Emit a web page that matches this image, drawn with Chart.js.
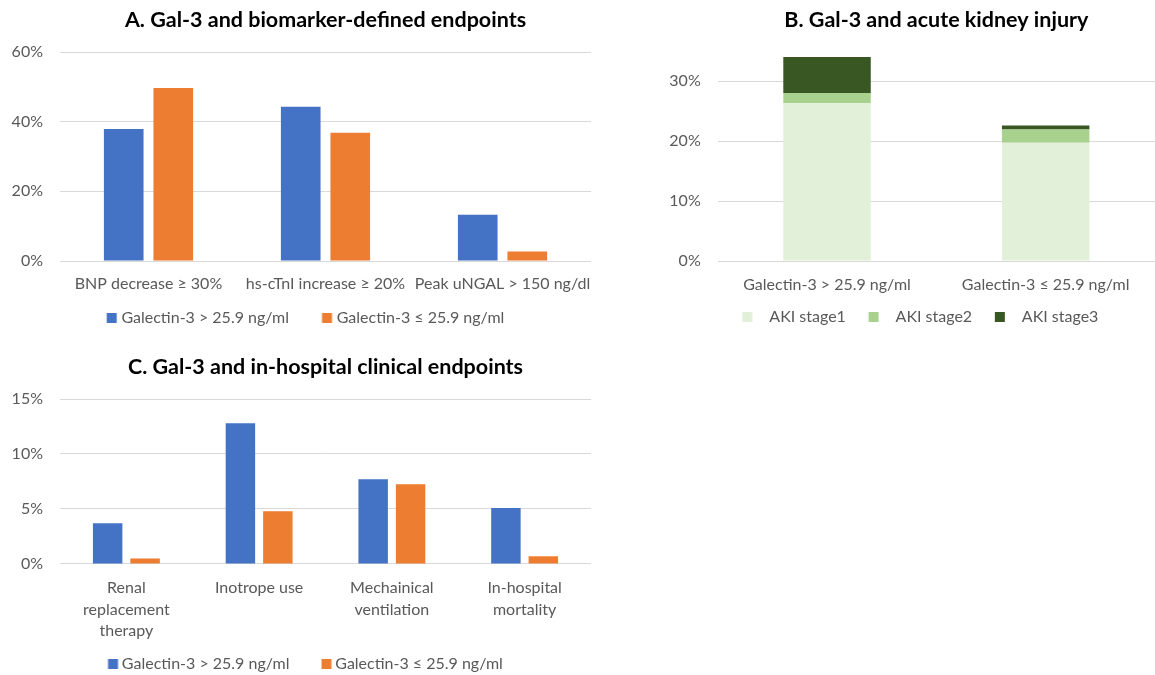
<!DOCTYPE html>
<html>
<head>
<meta charset="utf-8">
<title>Gal-3 endpoints</title>
<script src="https://cdn.jsdelivr.net/npm/chart.js@4.4.1/dist/chart.umd.min.js"></script>
<style>
  html, body { margin: 0; padding: 0; background: #fff; overflow: hidden; width: 1155px; height: 675px; }
  canvas { position: absolute; display: block; }
  #chartA { left: 0; top: 0; }
  #chartB { left: 640px; top: 0; }
  #chartC { left: 0; top: 340px; }
</style>
</head>
<body>
<canvas id="chartA" width="620" height="340"></canvas>
<canvas id="chartB" width="515" height="340"></canvas>
<canvas id="chartC" width="620" height="345"></canvas>
<script>
// ---- data (percent of patients) ----
const groupLabels = ['Galectin-3 > 25.9 ng/ml', 'Galectin-3 ≤ 25.9 ng/ml'];

// A. biomarker-defined endpoints
const biomarkerEndpoints = ['BNP decrease ≥ 30%', 'hs-cTnI increase ≥ 20%', 'Peak uNGAL > 150 ng/dl'];
const biomarkerHigh = [37.9, 44.3, 13.3];
const biomarkerLow  = [49.7, 36.8, 2.7];
const biomarkerTicks = [0, 20, 40, 60];

// B. acute kidney injury by stage
const akiStages = ['AKI stage1', 'AKI stage2', 'AKI stage3'];
const akiStage1 = [26.3, 19.7];
const akiStage2 = [1.7, 2.2];
const akiStage3 = [6.0, 0.7];
const akiTicks = [0, 10, 20, 30];

// C. in-hospital clinical endpoints
const clinicalEndpoints = [['Renal', 'replacement', 'therapy'], ['Inotrope use'], ['Mechainical', 'ventilation'], ['In-hospital', 'mortality']];
const clinicalHigh = [3.7, 12.8, 7.7, 5.1];
const clinicalLow  = [0.5, 4.8, 7.25, 0.7];
const clinicalTicks = [0, 5, 10, 15];

// ---- styling ----
const BLUE = '#4472C4', ORANGE = '#ED7D31';
const GREENS = ['#E2F0D9', '#A9D18E', '#385723'];
const TEXT = '#595959', GRID = '#D9D9D9';

Chart.defaults.font.family = "Lato, 'Open Sans', sans-serif";
Chart.defaults.font.size = 16;
Chart.defaults.color = TEXT;
Chart.defaults.animation = false;

// Square legend marker placed inside a wider box so the gaps around it can be tuned.
function legendSwatch(color, boxW, offset, size) {
  const c = document.createElement('canvas');
  const w = 2 * Math.ceil(boxW + offset + size);
  c.width = w; c.height = size;
  const g = c.getContext('2d');
  g.fillStyle = color;
  g.fillRect(w / 2 - boxW / 2 + offset, 0, size, size);
  return c;
}

function legendOptions(colors, boxW, offset, padding) {
  const swatches = colors.map(c => legendSwatch(c, boxW, offset, 10));
  return {
    position: 'bottom',
    labels: {
      usePointStyle: true,
      pointStyleWidth: boxW,
      padding: padding,
      color: TEXT,
      font: { size: 16 },
      generateLabels(chart) {
        const items = Chart.defaults.plugins.legend.labels.generateLabels(chart);
        items.forEach((it, i) => { it.pointStyle = swatches[i]; });
        return items;
      }
    }
  };
}

function titleOptions(text, top, bottom) {
  return {
    display: true, text: text, fullSize: false, color: '#000',
    font: { size: 21.5, weight: 'bold', lineHeight: '24px' },
    padding: { top: top, bottom: bottom }
  };
}

function percentAxis(max, step, tickValues, width, stacked) {
  return {
    min: 0, max: max, stacked: !!stacked,
    border: { display: false },
    grid: { color: GRID, lineWidth: 1, drawTicks: false },
    ticks: { stepSize: step, padding: 17, color: TEXT, font: { size: 16 }, callback: v => v + '%' },
    afterBuildTicks(scale) { scale.ticks = tickValues.map(v => ({ value: v })); },
    afterFit(scale) { scale.width = width; }
  };
}

function categoryAxis(padding, lineHeight, stacked) {
  return {
    stacked: !!stacked,
    border: { display: false },
    grid: { display: false, drawTicks: false },
    ticks: { padding: padding, color: TEXT, autoSkip: false, maxRotation: 0, minRotation: 0,
             font: { size: 16, lineHeight: lineHeight } }
  };
}

// A. Gal-3 and biomarker-defined endpoints
new Chart(document.getElementById('chartA'), {
  type: 'bar',
  data: {
    labels: biomarkerEndpoints,
    datasets: [
      { label: groupLabels[0], data: biomarkerHigh, backgroundColor: BLUE },
      { label: groupLabels[1], data: biomarkerLow, backgroundColor: ORANGE }
    ]
  },
  options: {
    responsive: false,
    categoryPercentage: 0.56, barPercentage: 0.8,
    layout: { padding: { left: -10, right: 29, top: 0, bottom: 4 } },
    plugins: {
      title: titleOptions('A. Gal-3 and biomarker-defined endpoints', 8, 20),
      legend: legendOptions([BLUE, ORANGE], 36.7, 30, 3),
      tooltip: { enabled: false }
    },
    scales: {
      x: categoryAxis(13.4, 1.2),
      y: percentAxis(60, 20, biomarkerTicks, 70)
    }
  }
});

// B. Gal-3 and acute kidney injury
new Chart(document.getElementById('chartB'), {
  type: 'bar',
  data: {
    labels: groupLabels,
    datasets: [
      { label: akiStages[0], data: akiStage1, backgroundColor: GREENS[0] },
      { label: akiStages[1], data: akiStage2, backgroundColor: GREENS[1] },
      { label: akiStages[2], data: akiStage3, backgroundColor: GREENS[2] }
    ]
  },
  options: {
    responsive: false,
    categoryPercentage: 1, barPercentage: 0.4,
    layout: { padding: { left: 23, right: 0, top: 0, bottom: 5 } },
    plugins: {
      title: titleOptions('B. Gal-3 and acute kidney injury', 8, 19),
      legend: legendOptions(GREENS, 41.7, 22.7, 0),
      tooltip: { enabled: false }
    },
    scales: {
      x: categoryAxis(14.4, 1.2, true),
      y: percentAxis(35, 10, akiTicks, 54.7, true)
    }
  }
});

// C. Gal-3 and in-hospital clinical endpoints
new Chart(document.getElementById('chartC'), {
  type: 'bar',
  data: {
    labels: clinicalEndpoints,
    datasets: [
      { label: groupLabels[0], data: clinicalHigh, backgroundColor: BLUE },
      { label: groupLabels[1], data: clinicalLow, backgroundColor: ORANGE }
    ]
  },
  options: {
    responsive: false,
    categoryPercentage: 0.564, barPercentage: 0.787,
    layout: { padding: { left: -11, right: 29, top: 0, bottom: 3 } },
    plugins: {
      title: titleOptions('C. Gal-3 and in-hospital clinical endpoints', 15, 20),
      legend: legendOptions([BLUE, ORANGE], 36.7, 30.9, 1.1),
      tooltip: { enabled: false }
    },
    scales: {
      x: categoryAxis(13.3, 1.34),
      y: percentAxis(15, 5, clinicalTicks, 71)
    }
  }
});
</script>
</body>
</html>
